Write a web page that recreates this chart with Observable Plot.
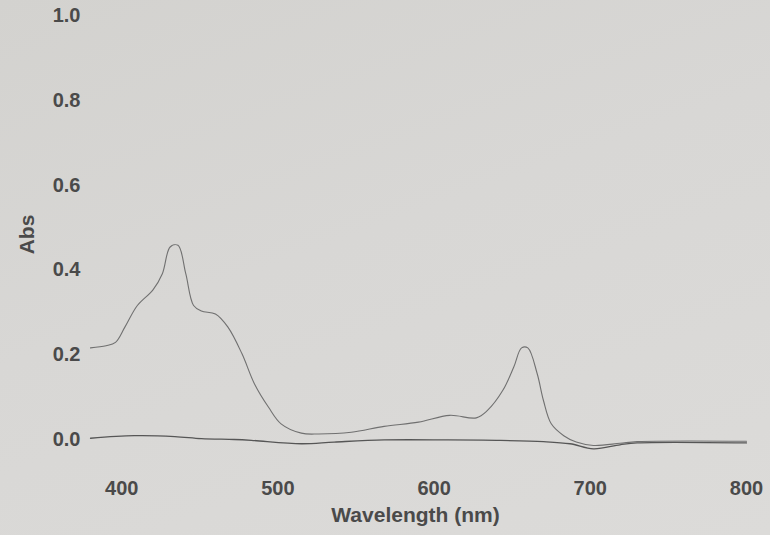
<!DOCTYPE html>
<html>
<head>
<meta charset="utf-8">
<script src="https://cdn.jsdelivr.net/npm/d3@7"></script>
<script src="https://cdn.jsdelivr.net/npm/@observablehq/plot@0.6"></script>
<style>
  html, body { margin: 0; padding: 0; }
  body {
    width: 770px; height: 535px; overflow: hidden;
    background: linear-gradient(160deg, #d3d2cf 0%, #d8d7d5 45%, #dcdbd9 100%);
  }
</style>
</head>
<body>
<div id="chart"></div>
<script>
// Sample spectrum (upper curve)
const sampleWavelength = [380, 390, 396, 402, 410, 420, 426, 431, 436, 441, 446, 451, 460, 468, 477, 485, 494, 502, 515, 526, 547, 568, 590, 610, 627, 634, 644, 651, 656, 660, 666, 670, 675, 683, 691, 702, 719, 730, 800];
const sampleAbs = [0.216, 0.221, 0.229, 0.265, 0.316, 0.353, 0.391, 0.454, 0.458, 0.391, 0.316, 0.303, 0.296, 0.265, 0.202, 0.131, 0.076, 0.037, 0.015, 0.013, 0.017, 0.031, 0.041, 0.057, 0.051, 0.068, 0.116, 0.171, 0.216, 0.216, 0.155, 0.092, 0.037, 0.009, -0.006, -0.014, -0.009, -0.005, -0.004];

// Baseline (lower curve)
const baseWavelength = [380, 408, 434, 451, 472, 483, 515, 536, 568, 609, 640, 670, 687, 702, 719, 730, 800];
const baseAbs = [0.003, 0.009, 0.007, 0.002, 0.0, -0.002, -0.010, -0.006, -0.001, -0.001, -0.002, -0.005, -0.010, -0.022, -0.0125, -0.008, -0.008];

const xTicks = [400, 500, 600, 700, 800];
const yTicks = [0.0, 0.2, 0.4, 0.6, 0.8, 1.0];
const xLabel = "Wavelength (nm)";
const yLabel = "Abs";

const sample = sampleWavelength.map((w, i) => ({w, a: sampleAbs[i]}));
const base = baseWavelength.map((w, i) => ({w, a: baseAbs[i]}));

const chart = Plot.plot({
  width: 770,
  height: 535,
  marginLeft: 90,
  marginRight: 24,
  marginTop: 15,
  marginBottom: 96,
  x: {domain: [380, 800]},
  y: {domain: [0, 1]},
  style: {
    background: "transparent",
    fontFamily: "'Liberation Sans', Arial, sans-serif",
    fontSize: "20px",
    fontWeight: "bold",
    color: "#4a4a4a"
  },
  marks: [
    Plot.axisX({ticks: xTicks, tickSize: 0, tickPadding: 41, tickFormat: d3.format("d"),
      label: null, fill: "#4a4a4a"}),
    Plot.text([xLabel], {text: d => d, frameAnchor: "bottom", dx: -3, dy: 82,
      fill: "#4a4a4a", fontSize: 21, fontWeight: "bold", lineAnchor: "bottom"}),
    Plot.axisY({ticks: yTicks, tickSize: 0, tickPadding: 10, tickFormat: d3.format(".1f"),
      label: null, fill: "#4a4a4a"}),
    Plot.text([yLabel], {text: d => d, frameAnchor: "left", textAnchor: "middle", rotate: -90, dx: -63, dy: 7,
      fill: "#4a4a4a", fontSize: 21, fontWeight: "bold"}),
    Plot.line(base, {x: "w", y: "a", stroke: "#565656", strokeWidth: 1.3, curve: "catmull-rom"}),
    Plot.line(sample, {x: "w", y: "a", stroke: "#707070", strokeWidth: 1.1, curve: "catmull-rom"})
  ]
});
document.getElementById("chart").appendChild(chart);
</script>
</body>
</html>
